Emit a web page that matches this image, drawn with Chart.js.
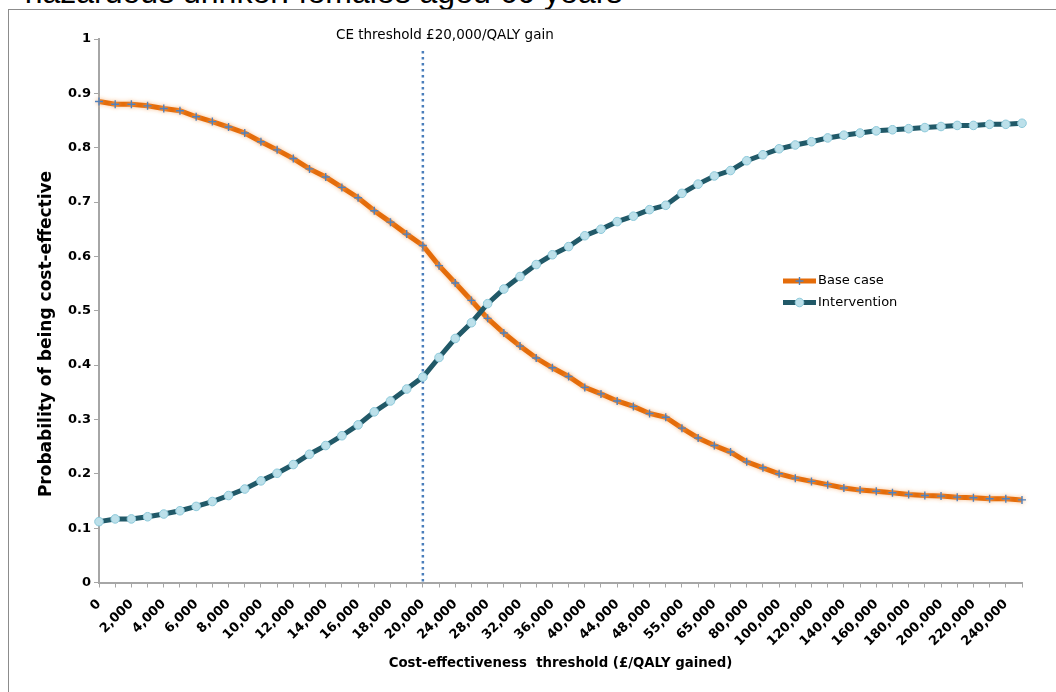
<!DOCTYPE html>
<html>
<head>
<meta charset="utf-8">
<script src="https://cdn.jsdelivr.net/npm/chart.js@4.4.1/dist/chart.umd.min.js"></script>
<style>
  html, body { margin: 0; padding: 0; background: #fff; overflow: hidden; }
  #wrap { position: relative; width: 1056px; height: 692px; overflow: hidden; }
  #caption { position: absolute; left: -2px; top: -26px; font: 32px "Liberation Sans", Arial, sans-serif; color: #000; white-space: nowrap; }
  #frame { position: absolute; left: 8px; top: 9px; width: 1100px; height: 720px; border: 1px solid #8c8c8c; box-sizing: border-box; }
  #c { position: absolute; left: 0; top: 0; }
</style>
</head>
<body>
<div id="wrap">
  <div id="caption">– hazardous drinker: females aged 60 years</div>
  <div id="frame"></div>
  <canvas id="c" width="1056" height="692"></canvas>
</div>
<script>
// Willingness-to-pay thresholds (£/QALY); every second one carries a tick label
const thresholds = [
  0, 1000, 2000, 3000, 4000, 5000, 6000, 7000, 8000, 9000, 10000,
  11000, 12000, 13000, 14000, 15000, 16000, 17000, 18000, 19000, 20000,
  22000, 24000, 26000, 28000, 30000, 32000, 34000, 36000, 38000, 40000,
  42000, 44000, 46000, 48000, 50000, 55000, 60000, 65000, 70000, 80000,
  90000, 100000, 110000, 120000, 130000, 140000, 150000, 160000, 170000,
  180000, 190000, 200000, 210000, 220000, 230000, 240000, 250000
];

// Probability that each strategy is cost-effective at each threshold
const baseCase = [
  0.885, 0.880, 0.880, 0.877, 0.872, 0.868, 0.857, 0.848, 0.838, 0.827, 0.811,
  0.796, 0.780, 0.761, 0.746, 0.727, 0.708, 0.684, 0.663, 0.641, 0.620,
  0.583, 0.551, 0.519, 0.486, 0.459, 0.435, 0.413, 0.395, 0.379, 0.359,
  0.347, 0.334, 0.324, 0.311, 0.304, 0.284, 0.266, 0.252, 0.240, 0.222,
  0.211, 0.200, 0.192, 0.186, 0.180, 0.174, 0.170, 0.168, 0.165,
  0.162, 0.160, 0.159, 0.157, 0.156, 0.154, 0.154, 0.152
];
const intervention = [
  0.112, 0.117, 0.117, 0.121, 0.126, 0.132, 0.140, 0.149, 0.160, 0.172, 0.187,
  0.201, 0.217, 0.236, 0.252, 0.270, 0.290, 0.314, 0.334, 0.356, 0.378,
  0.414, 0.449, 0.478, 0.513, 0.540, 0.563, 0.585, 0.603, 0.618, 0.638,
  0.650, 0.664, 0.674, 0.686, 0.694, 0.716, 0.733, 0.748, 0.758, 0.776,
  0.787, 0.798, 0.805, 0.811, 0.818, 0.823, 0.827, 0.831, 0.833,
  0.835, 0.837, 0.839, 0.841, 0.841, 0.843, 0.843, 0.845
];

const seriesNames = ['Base case', 'Intervention'];
const yTickValues = [0, 0.1, 0.2, 0.3, 0.4, 0.5, 0.6, 0.7, 0.8, 0.9, 1];
const ceThreshold = 20000;
const ceLabel = 'CE threshold £20,000/QALY gain';
const xTitle = 'Cost-effectiveness  threshold (£/QALY gained)';
const yTitle = 'Probability of being cost-effective';

const FONT = '"DejaVu Sans", "Liberation Sans", sans-serif';
const AXIS = '#a6a6a6';
const ORANGE = '#E46C0A';
const TEAL = '#215968';

const fmt = n => n.toLocaleString('en-GB');

// Dotted reference line at the CE threshold with its caption
const thresholdLine = {
  id: 'thresholdLine',
  beforeDatasetsDraw(chart) {
    const { ctx, chartArea, scales: { x } } = chart;
    const px = x.getPixelForValue(thresholds.indexOf(ceThreshold));
    ctx.save();
    ctx.strokeStyle = '#4a7ebb';
    ctx.lineWidth = 2.5;
    ctx.setLineDash([2.5, 3.5]);
    ctx.beginPath();
    ctx.moveTo(px, 51);
    ctx.lineTo(px, chartArea.bottom);
    ctx.stroke();
    ctx.setLineDash([]);
    ctx.fillStyle = '#000';
    ctx.font = '13.5px ' + FONT;
    ctx.textAlign = 'center';
    ctx.textBaseline = 'middle';
    ctx.fillText(ceLabel, px + 22, 35);
    ctx.restore();
  }
};

// Soft peach glow behind the base-case series
const glow = {
  id: 'glow',
  beforeDatasetDraw(chart, args) {
    if (args.index !== 0) return;
    chart.ctx.save();
    chart.ctx.shadowColor = 'rgba(250, 190, 140, 0.9)';
    chart.ctx.shadowBlur = 4;
  },
  afterDatasetDraw(chart, args) {
    if (args.index !== 0) return;
    chart.ctx.restore();
  }
};

// Line-and-marker legend plus the vertical axis title
const decorations = {
  id: 'decorations',
  afterDraw(chart) {
    const { ctx } = chart;
    ctx.save();
    chart.data.datasets.forEach((ds, i) => {
      const y = 281 + i * 21.5;
      const x0 = 783, x1 = 816;
      ctx.strokeStyle = ds.borderColor;
      ctx.lineWidth = 5;
      ctx.beginPath();
      ctx.moveTo(x0, y);
      ctx.lineTo(x1, y);
      ctx.stroke();
      ctx.fillStyle = ds.pointBackgroundColor;
      ctx.strokeStyle = ds.pointBorderColor;
      ctx.lineWidth = ds.pointBorderWidth;
      Chart.helpers.drawPoint(ctx, {
        pointStyle: ds.pointStyle, radius: ds.pointRadius,
        borderWidth: ds.pointBorderWidth, rotation: 0
      }, (x0 + x1) / 2, y);
      ctx.fillStyle = '#000';
      ctx.font = '13px ' + FONT;
      ctx.textAlign = 'left';
      ctx.textBaseline = 'middle';
      ctx.fillText(ds.label, x1 + 2, y);
    });
    ctx.translate(47, 334);
    ctx.rotate(-Math.PI / 2);
    ctx.fillStyle = '#000';
    ctx.font = 'bold 17px ' + FONT;
    ctx.textAlign = 'center';
    ctx.textBaseline = 'middle';
    ctx.fillText(yTitle, 0, 0);
    ctx.restore();
  }
};

new Chart(document.getElementById('c'), {
  type: 'line',
  data: {
    labels: thresholds,
    datasets: [
      {
        label: seriesNames[0], data: baseCase,
        borderColor: ORANGE, borderWidth: 5, tension: 0,
        pointStyle: 'cross', pointRadius: 4, pointBorderWidth: 1.4,
        pointBorderColor: '#4F81BD', pointBackgroundColor: '#4F81BD',
        order: 2, clip: false
      },
      {
        label: seriesNames[1], data: intervention,
        borderColor: TEAL, borderWidth: 5, tension: 0,
        pointStyle: 'circle', pointRadius: 4.3, pointBorderWidth: 1,
        pointBorderColor: '#8DC9DA', pointBackgroundColor: '#BCE0EA',
        order: 1, clip: false
      }
    ]
  },
  options: {
    responsive: false,
    animation: false,
    devicePixelRatio: 1,
    layout: { padding: { left: 0, right: 34, top: 39, bottom: 0 } },
    plugins: { legend: { display: false }, tooltip: { enabled: false } },
    scales: {
      x: {
        type: 'category',
        offset: false,
        grid: { drawOnChartArea: false, drawTicks: true, tickLength: 5, color: AXIS, lineWidth: 1 },
        border: { color: AXIS, width: 2 },
        ticks: {
          autoSkip: false, minRotation: 45, maxRotation: 45, padding: 9,
          color: '#000', font: { family: FONT, size: 13, weight: 'bold' },
          callback: (v, i) => (i % 2 === 0 ? fmt(thresholds[i]) : '')
        },
        title: {
          display: true, text: xTitle, color: '#000',
          font: { family: FONT, size: 13.3, weight: 'bold' },
          padding: { top: 0, bottom: 20 }
        },
        afterFit: s => { s.height = 109.5; }
      },
      y: {
        min: 0, max: 1,
        afterBuildTicks: s => { s.ticks = yTickValues.map(v => ({ value: v })); },
        grid: { drawOnChartArea: false, drawTicks: true, tickLength: 5, color: AXIS, lineWidth: 1 },
        border: { color: AXIS, width: 2 },
        ticks: {
          padding: 3, color: '#000',
          font: { family: FONT, size: 13, weight: 'bold' },
          callback: v => String(+v.toFixed(1))
        },
        afterFit: s => { s.width = 99; }
      }
    }
  },
  plugins: [thresholdLine, glow, decorations]
});
</script>
</body>
</html>
